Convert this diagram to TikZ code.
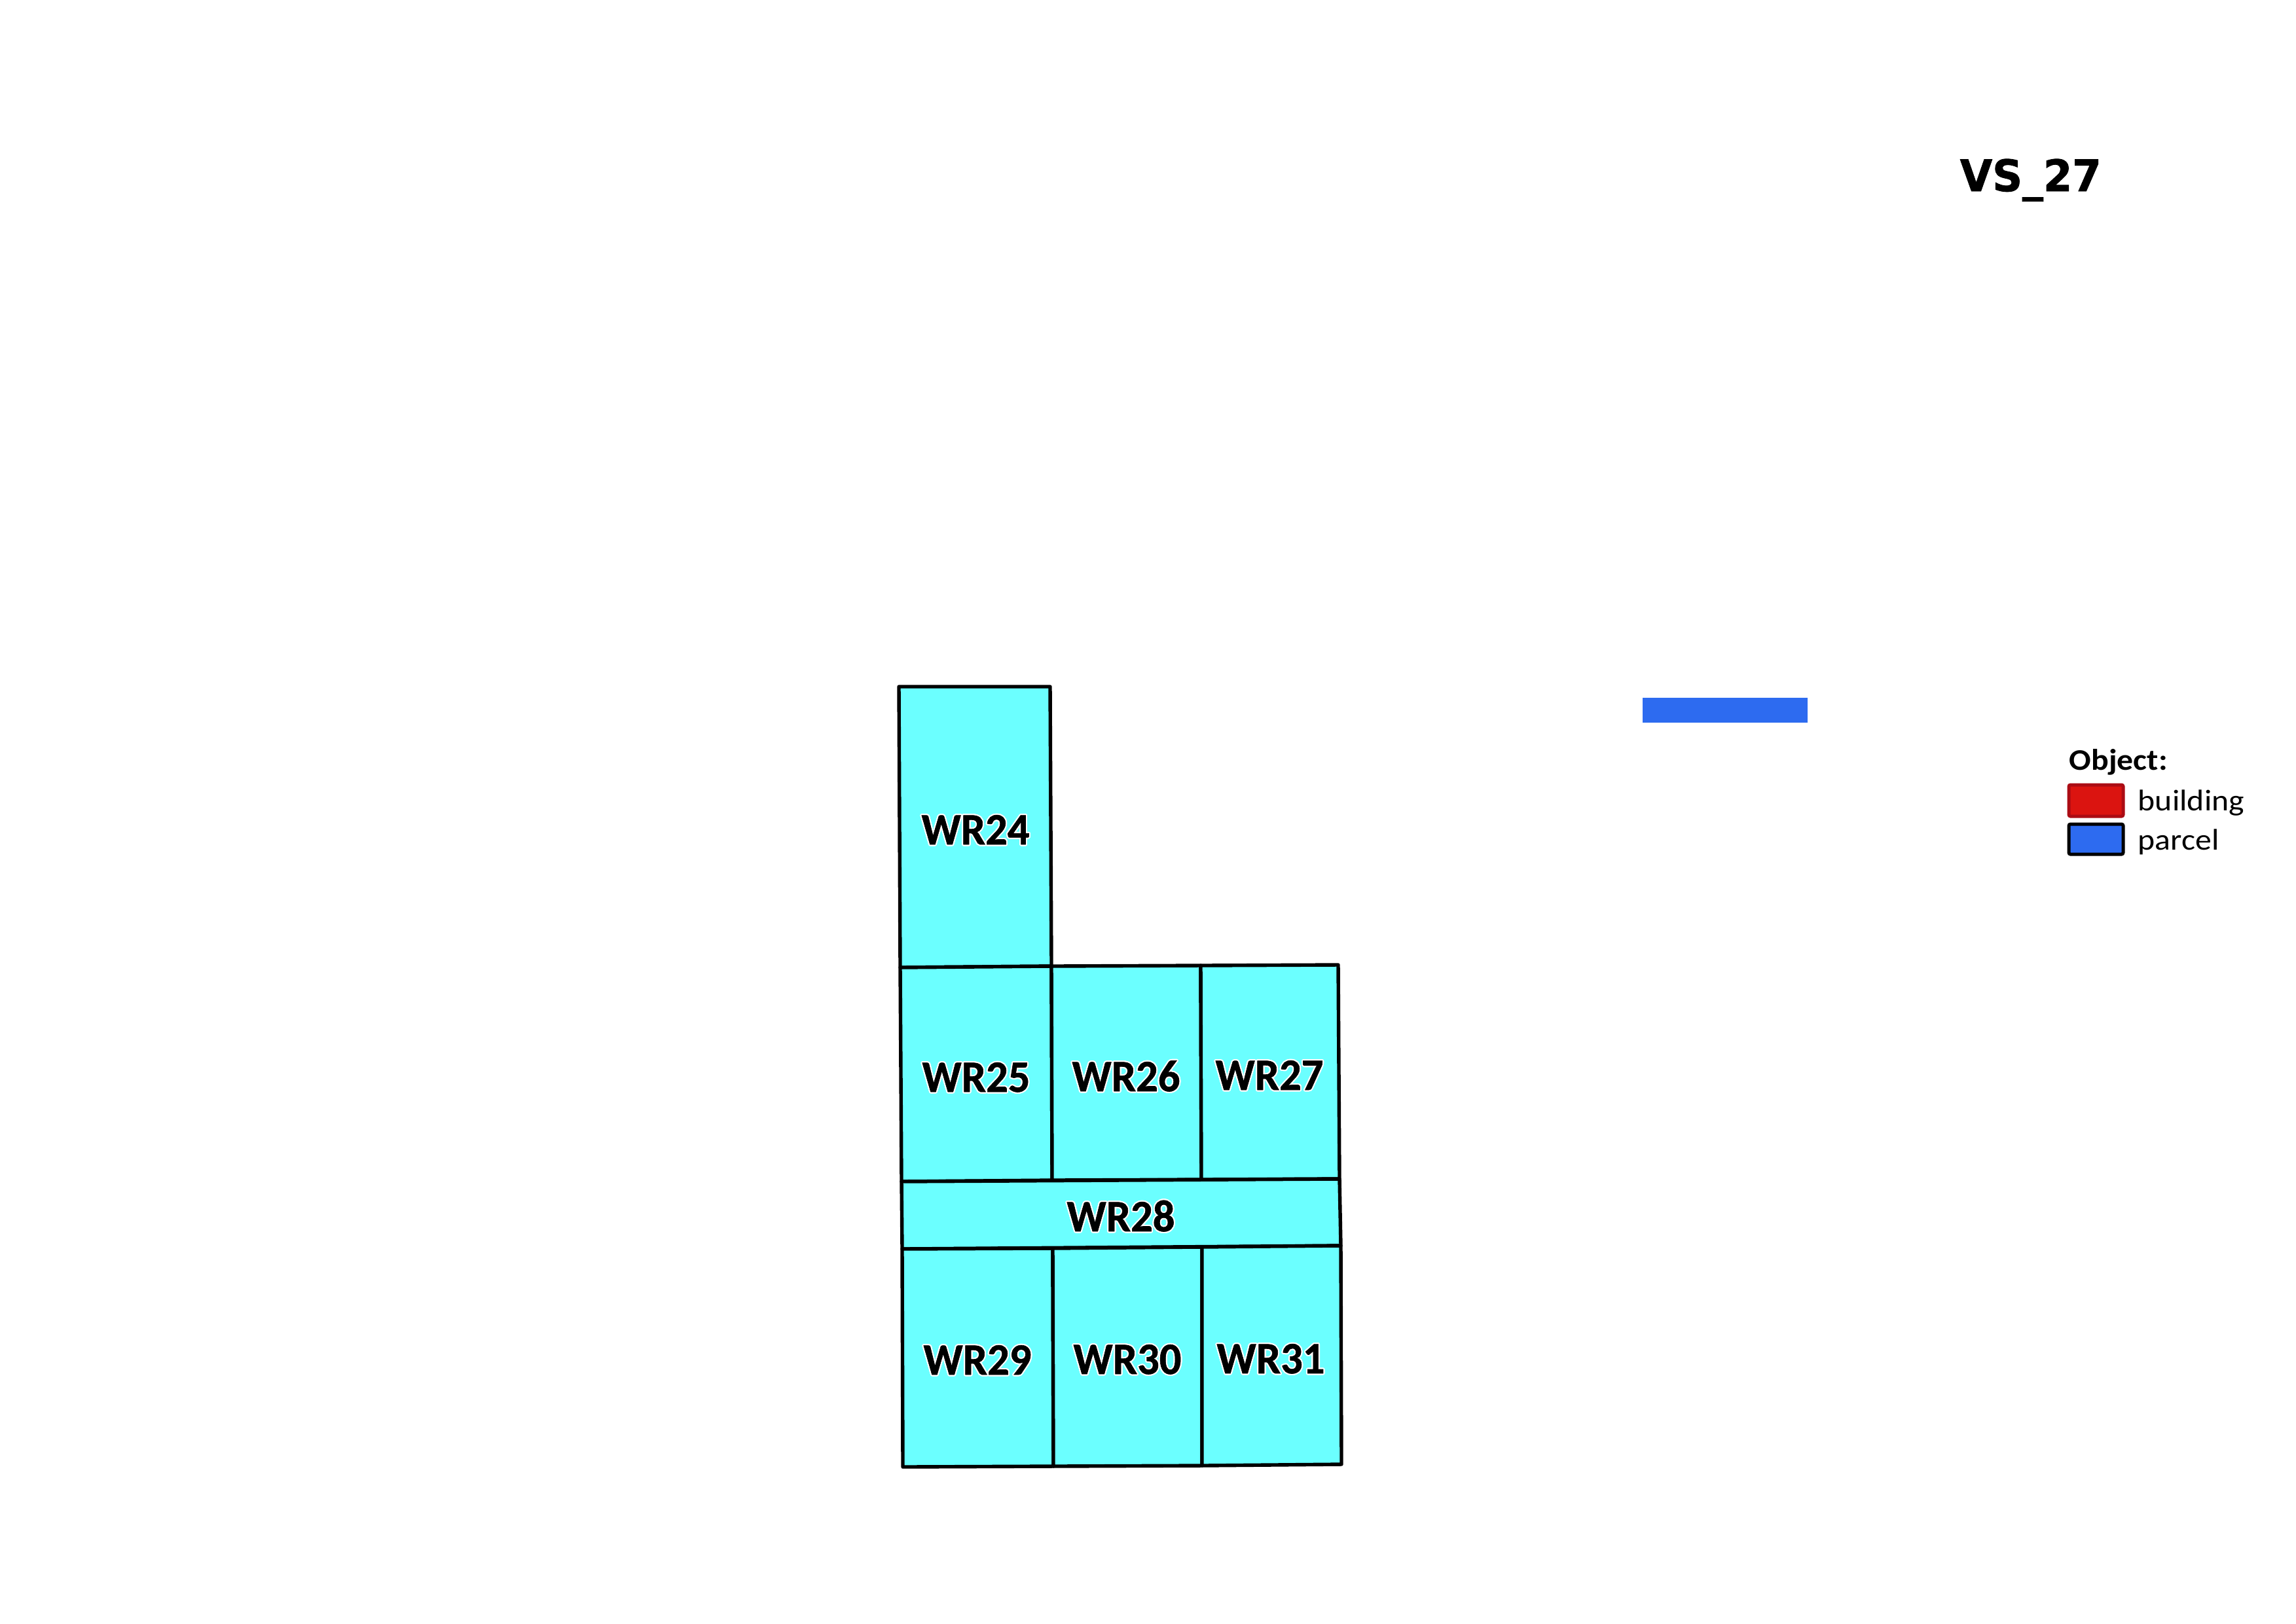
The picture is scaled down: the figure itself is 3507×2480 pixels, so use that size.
\documentclass[tikz,border=0pt]{standalone}
\usepackage{fontspec}
\usepackage[copies]{contour}
\setmainfont{Carlito}[FakeStretch=1.09]
\newfontfamily\wrfont{Carlito}[BoldFeatures={FakeStretch=0.97, FakeBold=0.9}]
\newfontfamily\vsfont{DejaVu Sans}[BoldFeatures={FakeStretch=0.96, FakeBold=1.2}]
\contourlength{0.5pt}
\contournumber{24}
\definecolor{roomcyan}{HTML}{6BFFFF}
\definecolor{parcelblue}{HTML}{2D6BF0}
\definecolor{buildred}{HTML}{DB1410}
\definecolor{buildedge}{HTML}{AB0C14}
\tikzset{
    room/.style={draw=black, fill=roomcyan, line width=1.3pt, line join=round},
    wrlabel/.style={anchor=base, inner sep=0pt, font=\wrfont\fontsize{16.5}{18}\selectfont\bfseries},
    legendbox/.style={line width=1.2pt, rounded corners=0.6pt},
    legendtext/.style={anchor=base west, inner sep=0pt, font=\fontsize{11}{13}\selectfont},
}
\newcommand{\wrname}[1]{\contour{white}{#1}}
\begin{document}
\begin{tikzpicture}[x=0.0084688cm, y=-0.0084688cm]
    \useasboundingbox (0, 0) rectangle (3507, 2480);
    % rooms
    \draw[room] (1373, 1049) -- (1604, 1049) -- (1606, 1476) -- (1375, 1478) -- cycle;
    \draw[room] (1375, 1478) -- (1606, 1476) -- (1607, 1803) -- (1377, 1805) -- cycle;
    \draw[room] (1606, 1476) -- (1834, 1475) -- (1835, 1802) -- (1607, 1803) -- cycle;
    \draw[room] (1834, 1475) -- (2044, 1474) -- (2046, 1801) -- (1835, 1802) -- cycle;
    \draw[room] (1377, 1805) -- (2046, 1801) -- (2048, 1903) -- (1378, 1908) -- cycle;
    \draw[room] (1378, 1908) -- (1608, 1907) -- (1609, 2240) -- (1379, 2241) -- cycle;
    \draw[room] (1608, 1907) -- (1836, 1905) -- (1836, 2239) -- (1609, 2240) -- cycle;
    \draw[room] (1836, 1905) -- (2048, 1903) -- (2049, 2237) -- (1836, 2239) -- cycle;
    % room names
    \node[wrlabel] (wr24) at (1490, 1290) {\wrname{WR24}};
    \node[wrlabel] (wr25) at (1491, 1668) {\wrname{WR25}};
    \node[wrlabel] (wr26) at (1720, 1667) {\wrname{WR26}};
    \node[wrlabel] (wr27) at (1939, 1665) {\wrname{WR27}};
    \node[wrlabel] (wr28) at (1712, 1881) {\wrname{WR28}};
    \node[wrlabel] (wr29) at (1493, 2100) {\wrname{WR29}};
    \node[wrlabel] (wr30) at (1722, 2099) {\wrname{WR30}};
    \node[wrlabel] (wr31) at (1941, 2098) {\wrname{WR31}};
    % parcel bar
    \fill[parcelblue] (2509, 1066) rectangle (2761, 1104);
    % title
    \node[anchor=base west, inner sep=0pt, font=\vsfont\fontsize{16}{18}\selectfont\bfseries] (title) at (2993, 292) {VS\_27};
    % legend
    \node[legendtext, font=\fontsize{11}{13}\selectfont\bfseries] (legend) at (3160, 1176) {Object:};
    \draw[legendbox, draw=buildedge, fill=buildred] (3160, 1199) rectangle (3243, 1247);
    \draw[legendbox, draw=black, fill=parcelblue] (3160, 1259) rectangle (3243, 1305);
    \node[legendtext] (building) at (3265, 1238) {building};
    \node[legendtext] (parcel) at (3265, 1298) {parcel};
\end{tikzpicture}
\end{document}
